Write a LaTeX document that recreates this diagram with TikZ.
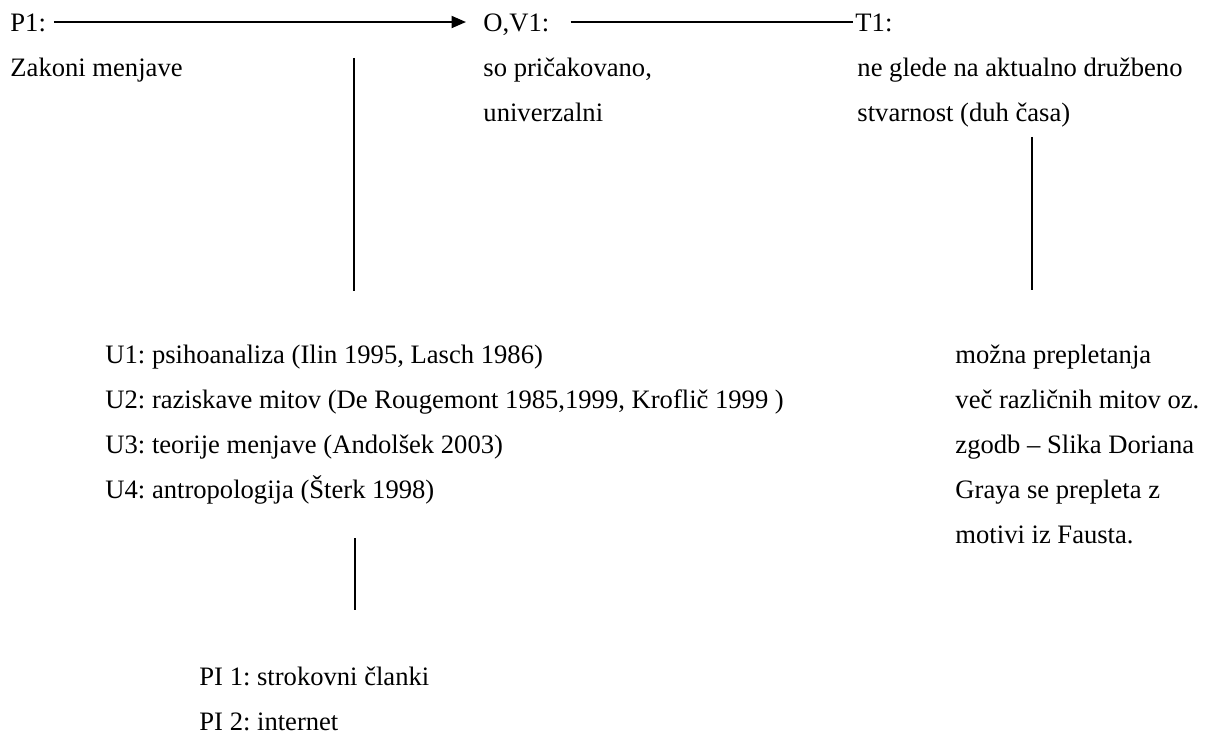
\documentclass[tikz,border=0pt]{standalone}
\usepackage{fontspec}
\setmainfont{Liberation Serif}
\usetikzlibrary{arrows.meta}
\frenchspacing

\tikzset{
  txt/.style={anchor=base west, inner sep=0pt, font=\fontsize{12}{14}\selectfont},
  conn/.style={line width=0.6pt},
  tip/.style={-{Triangle[length=6.5pt,width=5.5pt]}},
}

\begin{document}
\begin{tikzpicture}[x=0.451pt,y=0.451pt]
  \pgfmathsetmacro{\dy}{45}
  \useasboundingbox (0,0) rectangle (1206,-733);

  % top row
  \node[txt] (p1)  at (10,-32)  {P1:};
  \node[txt] (zak) at (10,-77)  {Zakoni menjave};
  \node[txt] (ov1) at (483,-32) {O,V1:};
  \node[txt] (pri) at (483,-77) {so pričakovano,};
  \node[txt] (uni) at (483,-122) {univerzalni};
  \node[txt] (t1)  at (855,-32) {T1:};
  \node[txt] (ne)  at (857,-77) {ne glede na aktualno družbeno};
  \node[txt] (stv) at (857,-122) {stvarnost (duh časa)};

  \draw[conn,tip,shorten <=3.4pt,shorten >=7.7pt]
    ([yshift=4.5pt]p1.base east) -- ([yshift=4.5pt]ov1.base west);
  \draw[conn,shorten <=9.5pt,shorten >=0.9pt]
    ([yshift=4.5pt]ov1.base east) -- ([yshift=4.5pt]t1.base west);

  \coordinate (a1) at (354,-58);
  \coordinate (a2) at (354,-291);
  \coordinate (b1) at (1032,-137);
  \coordinate (b2) at (1032,-290);
  \draw[conn] (a1) -- (a2);
  \draw[conn] (b1) -- (b2);

  % U block
  \foreach \i/\t in {1/{psihoanaliza (Ilin 1995, Lasch 1986)},
                     2/{raziskave mitov (De Rougemont 1985,1999, Kroflič 1999 )},
                     3/{teorije menjave (Andolšek 2003)},
                     4/{antropologija (Šterk 1998)}}{
    \pgfmathsetmacro{\yy}{-363-\dy*(\i-1)}
    \node[txt] (u\i) at (105,\yy) {U\i: \t};
  }

  % right block
  \foreach \i/\t in {1/možna prepletanja,
                     2/več različnih mitov oz.,
                     3/zgodb – Slika Doriana,
                     4/Graya se prepleta z,
                     5/motivi iz Fausta.}{
    \pgfmathsetmacro{\yy}{-363-\dy*(\i-1)}
    \node[txt] (m\i) at (955,\yy) {\t};
  }

  \coordinate (c1) at (355,-538);
  \coordinate (c2) at (355,-610);
  \draw[conn] (c1) -- (c2);

  \node[txt] (pi1) at (199,-685) {PI 1: strokovni članki};
  \node[txt] (pi2) at (199,-730) {PI 2: internet};

\end{tikzpicture}
\end{document}
